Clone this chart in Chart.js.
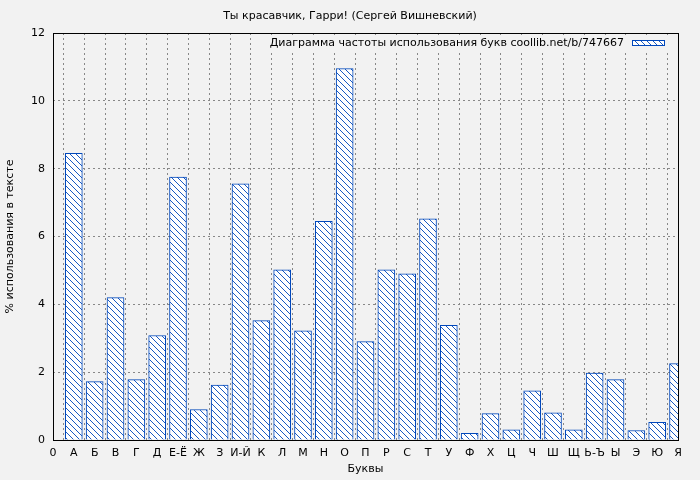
<!DOCTYPE html>
<html><head><meta charset="utf-8">
<script src="https://cdn.jsdelivr.net/npm/chart.js@4"></script>
<style>html,body{margin:0;background:#f2f2f2}#w{width:700px;height:480px}</style>
</head><body><div id="w"><canvas id="c"></canvas></div>
<script>
const categories = ['0','А','Б','В','Г','Д','Е-Ё','Ж','З','И-Й','К','Л','М','Н','О','П','Р','С','Т','У','Ф','Х','Ц','Ч','Ш','Щ','Ь-Ъ','Ы','Э','Ю','Я'];
const values = [null,8.45,1.72,4.2,1.78,3.08,7.75,0.9,1.62,7.55,3.52,5.02,3.22,6.45,10.95,2.9,5.02,4.9,6.52,3.38,0.2,0.78,0.3,1.45,0.8,0.3,1.97,1.78,0.28,0.52,2.25];
const yTicks = [0,2,4,6,8,10,12];
const titleText = 'Ты красавчик, Гарри! (Сергей Вишневский)';
const legendText = 'Диаграмма частоты использования букв coollib.net/b/747667';
const BLUE = '#0047bb';
function hatch(){const p=document.createElement('canvas');p.width=6;p.height=6;const g=p.getContext('2d');g.fillStyle='#fff';g.fillRect(0,0,6,6);g.strokeStyle=BLUE;g.lineWidth=0.9;g.beginPath();g.moveTo(0,0);g.lineTo(6,6);g.moveTo(-3,3);g.lineTo(3,9);g.moveTo(3,-3);g.lineTo(9,3);g.stroke();return g.createPattern(p,'repeat');}
const FONT='DejaVu Sans';
const deco={id:'deco',beforeDraw(c){const x=c.ctx;x.save();x.fillStyle='#f2f2f2';x.fillRect(0,0,c.width,c.height);x.restore();},
afterDraw(c){const x=c.ctx,a=c.chartArea;x.save();x.strokeStyle='#000';x.lineWidth=1;x.strokeRect(a.left+0.5,a.top+0.5,a.right-a.left,a.bottom-a.top);
x.fillStyle='#000';x.font='11px '+FONT;x.textAlign='center';x.textBaseline='middle';x.fillText(titleText,350,16);
x.textAlign='right';const tw=x.measureText(legendText).width;x.fillStyle='#f2f2f2';x.fillRect(624-tw-4,35,tw+48,16);x.fillStyle='#000';x.fillText(legendText,624,43);
x.fillStyle=hatch();x.fillRect(632,40,32,5);x.strokeStyle=BLUE;x.strokeRect(632.5,40.5,32,5);x.restore();}};
new Chart(document.getElementById('c'),{type:'bar',
data:{labels:categories,datasets:[{data:values,backgroundColor:hatch(),borderColor:BLUE,borderWidth:1,barThickness:17}]},
options:{responsive:true,maintainAspectRatio:false,animation:false,devicePixelRatio:1,
layout:{padding:{top:33,right:22,left:0,bottom:0}},
plugins:{legend:{display:false},tooltip:{enabled:false}},
scales:{
x:{offset:false,grid:{color:'#888',tickLength:0,drawTicks:false},border:{display:false,dash:[2,3]},
 ticks:{color:'#000',font:{family:FONT,size:11},maxRotation:0,autoSkip:false,padding:7},
 title:{display:true,text:'Буквы',color:'#000',font:{family:FONT,size:11},padding:{top:2}},
 afterFit(s){s.height=40;}},
y:{min:0,max:12,afterBuildTicks(s){s.ticks=yTicks.map(v=>({value:v}));},
 grid:{color:'#888',drawTicks:false},border:{display:false,dash:[2,3]},
 ticks:{color:'#000',font:{family:FONT,size:11},padding:8},
 title:{display:true,text:'% использования в тексте',color:'#000',font:{family:FONT,size:11}},
 afterFit(s){s.width=53;}}}},
plugins:[deco]});
</script></body></html>
